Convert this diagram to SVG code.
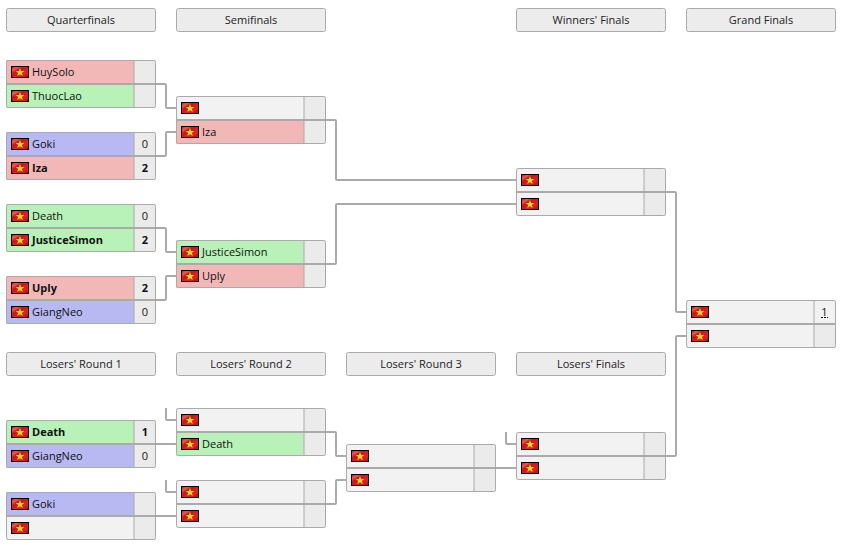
<svg xmlns="http://www.w3.org/2000/svg" width="846" height="552" viewBox="0 0 846 552">
<style>
text{font-family:"Open Sans","DejaVu Sans",sans-serif;font-size:11px;fill:#111}
.h rect{fill:#ececec;stroke:#aaa;stroke-width:1}
.h text{text-anchor:middle;fill:#222}
.o{fill:none;stroke:#aaa;stroke-width:1}
.d{stroke:#aaa;stroke-width:2}
.s{stroke:#aaa;stroke-width:1}
.r{fill:#f2b8b8}.g{fill:#b8f2b8}.b{fill:#b8b8f2}.e{fill:#f2f2f2}.c{fill:#ebebeb}
.n{font-weight:700}
.m{text-anchor:middle}
#conn path{fill:none;stroke:#aaa;stroke-width:2;stroke-linejoin:round}
</style>
<defs>
<linearGradient id="fg" x1="0" y1="0" x2="1" y2="1">
<stop offset="0" stop-color="#a80c0c"/><stop offset=".2" stop-color="#f05a50"/><stop offset=".36" stop-color="#c81616"/><stop offset=".7" stop-color="#e42222"/><stop offset="1" stop-color="#a00c0c"/>
</linearGradient>
<g id="flag">
<rect x="0.5" y="0.5" width="17" height="11" fill="url(#fg)" stroke="#000"/>
<polygon points="9,1.9 10.1,5 13.4,5 10.8,7 11.8,10.1 9,8.3 6.2,10.1 7.2,7 4.6,5 7.9,5" fill="#f2d91f"/>
</g>
</defs>

<g id="conn">
<path d="M156 84H165Q166 84 166 85V107Q166 108 167 108H176"/>
<path d="M156 156H165Q166 156 166 155V133Q166 132 167 132H176"/>
<path d="M156 228H165Q166 228 166 229V251Q166 252 167 252H176"/>
<path d="M156 300H165Q166 300 166 299V277Q166 276 167 276H176"/>
<path d="M326 120H335Q336 120 336 121V179Q336 180 337 180H516"/>
<path d="M326 264H335Q336 264 336 263V205Q336 204 337 204H516"/>
<path d="M666 192H675Q676 192 676 193V311Q676 312 677 312H686"/>
<path d="M666 456H675Q676 456 676 455V337Q676 336 677 336H686"/>
<path d="M166 408V419Q166 420 167 420H176"/>
<path d="M156 444H176"/>
<path d="M166 480V491Q166 492 167 492H176"/>
<path d="M156 516H176"/>
<path d="M326 432H335Q336 432 336 433V455Q336 456 337 456H346"/>
<path d="M326 504H335Q336 504 336 503V481Q336 480 337 480H346"/>
<path d="M506 432V443Q506 444 507 444H516"/>
<path d="M496 468H516"/>
</g>

<g id="h-qf" class="h"><rect x="6.500" y="8.500" width="149" height="23" rx="2"/><text x="81" y="24">Quarterfinals</text></g>
<g id="h-sf" class="h"><rect x="176.500" y="8.500" width="149" height="23" rx="2"/><text x="251" y="24">Semifinals</text></g>
<g id="h-wf" class="h"><rect x="516.500" y="8.500" width="149" height="23" rx="2"/><text x="591" y="24">Winners' Finals</text></g>
<g id="h-gf" class="h"><rect x="686.500" y="8.500" width="149" height="23" rx="2"/><text x="761" y="24">Grand Finals</text></g>
<g id="h-lr1" class="h"><rect x="6.500" y="352.500" width="149" height="23" rx="2"/><text x="81" y="368">Losers' Round 1</text></g>
<g id="h-lr2" class="h"><rect x="176.500" y="352.500" width="149" height="23" rx="2"/><text x="251" y="368">Losers' Round 2</text></g>
<g id="h-lr3" class="h"><rect x="346.500" y="352.500" width="149" height="23" rx="2"/><text x="421" y="368">Losers' Round 3</text></g>
<g id="h-lf" class="h"><rect x="516.500" y="352.500" width="149" height="23" rx="2"/><text x="591" y="368">Losers' Finals</text></g>

<g id="qf1" transform="translate(6 60)">
<rect class="r" width="128" height="24"/><rect class="g" y="24" width="128" height="24"/><rect class="c" x="128" width="22" height="48"/>
<use href="#flag" x="5" y="6"/><use href="#flag" x="5" y="30"/>
<text x="26" y="16">HuySolo</text><text x="26" y="40">ThuocLao</text>
<path class="s" d="M128 0V48"/><path class="d" d="M0 24H150"/><rect class="o" x=".5" y=".5" width="149" height="47" rx="2"/>
</g>
<g id="qf2" transform="translate(6 132)">
<rect class="b" width="128" height="24"/><rect class="r" y="24" width="128" height="24"/><rect class="c" x="128" width="22" height="48"/>
<use href="#flag" x="5" y="6"/><use href="#flag" x="5" y="30"/>
<text x="26" y="16">Goki</text><text x="26" y="40" class="n">Iza</text>
<text x="139" y="16" class="m">0</text><text x="139" y="40" class="m n">2</text>
<path class="s" d="M128 0V48"/><path class="d" d="M0 24H150"/><rect class="o" x=".5" y=".5" width="149" height="47" rx="2"/>
</g>
<g id="qf3" transform="translate(6 204)">
<rect class="g" width="128" height="24"/><rect class="g" y="24" width="128" height="24"/><rect class="c" x="128" width="22" height="48"/>
<use href="#flag" x="5" y="6"/><use href="#flag" x="5" y="30"/>
<text x="26" y="16">Death</text><text x="26" y="40" class="n">JusticeSimon</text>
<text x="139" y="16" class="m">0</text><text x="139" y="40" class="m n">2</text>
<path class="s" d="M128 0V48"/><path class="d" d="M0 24H150"/><rect class="o" x=".5" y=".5" width="149" height="47" rx="2"/>
</g>
<g id="qf4" transform="translate(6 276)">
<rect class="r" width="128" height="24"/><rect class="b" y="24" width="128" height="24"/><rect class="c" x="128" width="22" height="48"/>
<use href="#flag" x="5" y="6"/><use href="#flag" x="5" y="30"/>
<text x="26" y="16" class="n">Uply</text><text x="26" y="40">GiangNeo</text>
<text x="139" y="16" class="m n">2</text><text x="139" y="40" class="m">0</text>
<path class="s" d="M128 0V48"/><path class="d" d="M0 24H150"/><rect class="o" x=".5" y=".5" width="149" height="47" rx="2"/>
</g>
<g id="sf1" transform="translate(176 96)">
<rect class="e" width="128" height="24"/><rect class="r" y="24" width="128" height="24"/><rect class="c" x="128" width="22" height="48"/>
<use href="#flag" x="5" y="6"/><use href="#flag" x="5" y="30"/>
<text x="26" y="40">Iza</text>
<path class="s" d="M128 0V48"/><path class="d" d="M0 24H150"/><rect class="o" x=".5" y=".5" width="149" height="47" rx="2"/>
</g>
<g id="sf2" transform="translate(176 240)">
<rect class="g" width="128" height="24"/><rect class="r" y="24" width="128" height="24"/><rect class="c" x="128" width="22" height="48"/>
<use href="#flag" x="5" y="6"/><use href="#flag" x="5" y="30"/>
<text x="26" y="16">JusticeSimon</text><text x="26" y="40">Uply</text>
<path class="s" d="M128 0V48"/><path class="d" d="M0 24H150"/><rect class="o" x=".5" y=".5" width="149" height="47" rx="2"/>
</g>
<g id="wf" transform="translate(516 168)">
<rect class="e" width="128" height="48"/><rect class="c" x="128" width="22" height="48"/>
<use href="#flag" x="5" y="6"/><use href="#flag" x="5" y="30"/>
<path class="s" d="M128 0V48"/><path class="d" d="M0 24H150"/><rect class="o" x=".5" y=".5" width="149" height="47" rx="2"/>
</g>
<g id="gf" transform="translate(686 300)">
<rect class="e" width="128" height="48"/><rect class="e" x="128" width="22" height="24"/><rect class="c" x="128" y="24" width="22" height="24"/>
<use href="#flag" x="5" y="6"/><use href="#flag" x="5" y="30"/>
<text x="138.500" y="16" class="m">1</text>
<path d="M135 17.500H142" stroke="#111" stroke-width="1" stroke-dasharray="2 1" fill="none"/>
<path class="s" d="M128 0V48"/><path class="d" d="M0 24H150"/><rect class="o" x=".5" y=".5" width="149" height="47" rx="2"/>
</g>
<g id="lr1a" transform="translate(6 420)">
<rect class="g" width="128" height="24"/><rect class="b" y="24" width="128" height="24"/><rect class="c" x="128" width="22" height="48"/>
<use href="#flag" x="5" y="6"/><use href="#flag" x="5" y="30"/>
<text x="26" y="16" class="n">Death</text><text x="26" y="40">GiangNeo</text>
<text x="139" y="16" class="m n">1</text><text x="139" y="40" class="m">0</text>
<path class="s" d="M128 0V48"/><path class="d" d="M0 24H150"/><rect class="o" x=".5" y=".5" width="149" height="47" rx="2"/>
</g>
<g id="lr1b" transform="translate(6 492)">
<rect class="b" width="128" height="24"/><rect class="e" y="24" width="128" height="24"/><rect class="c" x="128" width="22" height="48"/>
<use href="#flag" x="5" y="6"/><use href="#flag" x="5" y="30"/>
<text x="26" y="16">Goki</text>
<path class="s" d="M128 0V48"/><path class="d" d="M0 24H150"/><rect class="o" x=".5" y=".5" width="149" height="47" rx="2"/>
</g>
<g id="lr2a" transform="translate(176 408)">
<rect class="e" width="128" height="24"/><rect class="g" y="24" width="128" height="24"/><rect class="c" x="128" width="22" height="48"/>
<use href="#flag" x="5" y="6"/><use href="#flag" x="5" y="30"/>
<text x="26" y="40">Death</text>
<path class="s" d="M128 0V48"/><path class="d" d="M0 24H150"/><rect class="o" x=".5" y=".5" width="149" height="47" rx="2"/>
</g>
<g id="lr2b" transform="translate(176 480)">
<rect class="e" width="128" height="48"/><rect class="c" x="128" width="22" height="48"/>
<use href="#flag" x="5" y="6"/><use href="#flag" x="5" y="30"/>
<path class="s" d="M128 0V48"/><path class="d" d="M0 24H150"/><rect class="o" x=".5" y=".5" width="149" height="47" rx="2"/>
</g>
<g id="lr3" transform="translate(346 444)">
<rect class="e" width="128" height="48"/><rect class="c" x="128" width="22" height="48"/>
<use href="#flag" x="5" y="6"/><use href="#flag" x="5" y="30"/>
<path class="s" d="M128 0V48"/><path class="d" d="M0 24H150"/><rect class="o" x=".5" y=".5" width="149" height="47" rx="2"/>
</g>
<g id="lf" transform="translate(516 432)">
<rect class="e" width="128" height="48"/><rect class="c" x="128" width="22" height="48"/>
<use href="#flag" x="5" y="6"/><use href="#flag" x="5" y="30"/>
<path class="s" d="M128 0V48"/><path class="d" d="M0 24H150"/><rect class="o" x=".5" y=".5" width="149" height="47" rx="2"/>
</g>
</svg>
